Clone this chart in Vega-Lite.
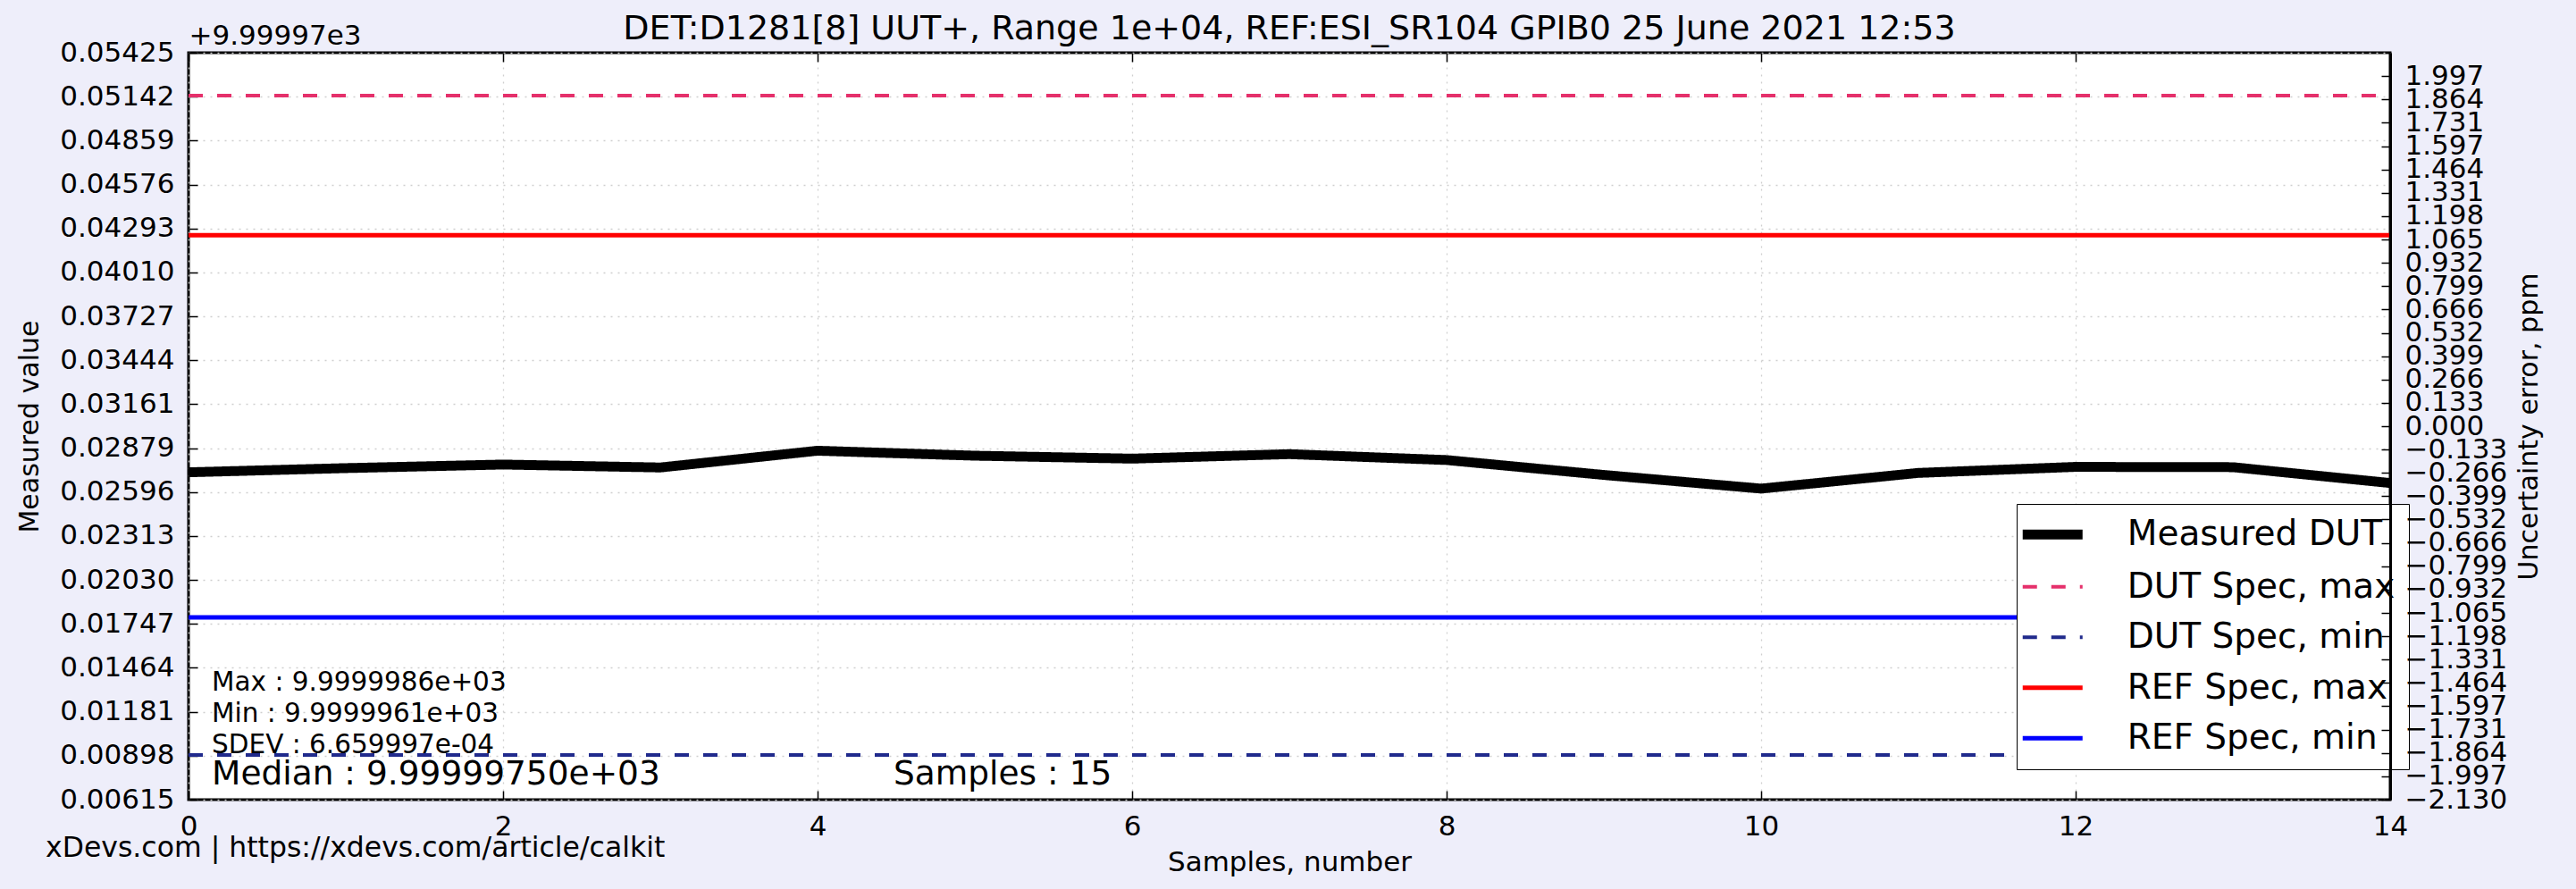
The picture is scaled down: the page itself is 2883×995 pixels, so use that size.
{
  "$schema": "https://vega.github.io/schema/vega-lite/v6.json",
  "width": 2464,
  "height": 836,
  "autosize": {"type": "none"},
  "padding": {"left": 211, "top": 59, "right": 208, "bottom": 100},
  "background": "#EEEEFA",
  "title": {"text": "DET:D1281[8] UUT+, Range 1e+04, REF:ESI_SR104 GPIB0 25 June 2021 12:53", "fontSize": 38, "fontWeight": "normal", "font": "DejaVu Sans", "color": "black", "anchor": "middle", "offset": -28},
  "config": {
    "font": "DejaVu Sans",
    "view": {"fill": "white", "stroke": "black", "strokeWidth": 3},
    "axis": {"labelFont": "DejaVu Sans", "titleFont": "DejaVu Sans", "labelColor": "black", "titleColor": "black", "labelFontSize": 31, "titleFontSize": 31, "titleFontWeight": "normal", "domain": false, "tickColor": "black", "tickSize": -10, "tickWidth": 1.5, "gridColor": "#cfcfcf", "gridDash": [2, 6], "gridWidth": 1.3, "labelOverlap": false, "labelBound": false, "labelFlush": false}
  },
  "datasets": {
    "lines": [
      {"series": "Measured DUT", "sample": 0, "value": 0.02723},
      {"series": "Measured DUT", "sample": 1, "value": 0.02750},
      {"series": "Measured DUT", "sample": 2, "value": 0.02773},
      {"series": "Measured DUT", "sample": 3, "value": 0.02754},
      {"series": "Measured DUT", "sample": 4, "value": 0.02862},
      {"series": "Measured DUT", "sample": 5, "value": 0.02830},
      {"series": "Measured DUT", "sample": 6, "value": 0.02811},
      {"series": "Measured DUT", "sample": 7, "value": 0.02840},
      {"series": "Measured DUT", "sample": 8, "value": 0.02802},
      {"series": "Measured DUT", "sample": 9, "value": 0.02706},
      {"series": "Measured DUT", "sample": 10, "value": 0.02618},
      {"series": "Measured DUT", "sample": 11, "value": 0.02719},
      {"series": "Measured DUT", "sample": 12, "value": 0.02758},
      {"series": "Measured DUT", "sample": 13, "value": 0.02756},
      {"series": "Measured DUT", "sample": 14, "value": 0.02654},
      {"series": "DUT Spec, max", "sample": 0, "value": 0.051488},
      {"series": "DUT Spec, max", "sample": 14, "value": 0.051488},
      {"series": "DUT Spec, min", "sample": 0, "value": 0.009027},
      {"series": "DUT Spec, min", "sample": 14, "value": 0.009027},
      {"series": "REF Spec, max", "sample": 0, "value": 0.042496},
      {"series": "REF Spec, max", "sample": 14, "value": 0.042496},
      {"series": "REF Spec, min", "sample": 0, "value": 0.017887},
      {"series": "REF Spec, min", "sample": 14, "value": 0.017887}
    ],
    "ppm": [{"ppm": -2.13}, {"ppm": 2.13}]
  },
  "layer": [
    {
      "data": {"name": "lines"},
      "mark": {"type": "line", "strokeCap": "butt", "strokeJoin": "miter"},
      "encoding": {
        "x": {"field": "sample", "type": "quantitative", "scale": {"domain": [0, 14], "nice": false, "zero": false},
          "axis": {"orient": "bottom", "values": [0, 2, 4, 6, 8, 10, 12, 14], "format": "d", "grid": true, "labelPadding": 25, "labelFontSize": 31, "title": "Samples, number", "titleFontSize": 31, "titlePadding": 10}},
        "y": {"field": "value", "type": "quantitative", "scale": {"domain": [0.00615, 0.05425], "nice": false, "zero": false},
          "axis": {"orient": "left", "values": [0.00615, 0.008979412, 0.011808824, 0.014638235, 0.017467647, 0.020297059, 0.023126471, 0.025955882, 0.028785294, 0.031614706, 0.034444118, 0.037273529, 0.040102941, 0.042932353, 0.045761765, 0.048591176, 0.051420588, 0.05425], "format": ".5f", "grid": true, "labelPadding": 26, "labelFontSize": 31, "title": "Measured value", "titleFontSize": 30, "titlePadding": 18}},
        "color": {"field": "series", "type": "nominal",
          "scale": {"domain": ["Measured DUT", "DUT Spec, max", "DUT Spec, min", "REF Spec, max", "REF Spec, min"], "range": ["#000000", "#E5306B", "#202A8C", "#FF0000", "#0000FF"]},
          "legend": {"orient": "none", "legendX": 2046, "legendY": 505, "title": null, "symbolType": "stroke", "symbolSize": 4489, "symbolOffset": 6, "labelFontSize": 39, "labelFont": "DejaVu Sans", "labelColor": "black", "labelOffset": 64, "rowPadding": 16.5, "padding": 14.75, "strokeColor": "black", "fillColor": "white", "labelLimit": 0,
            "encode": {"symbols": {"update": {"strokeWidth": {"signal": "datum.value === 'Measured DUT' ? 11 : ((datum.value === 'REF Spec, max' || datum.value === 'REF Spec, min') ? 5 : 4)"}}}}}},
        "strokeDash": {"field": "series", "type": "nominal",
          "scale": {"domain": ["Measured DUT", "DUT Spec, max", "DUT Spec, min", "REF Spec, max", "REF Spec, min"], "range": [[1, 0], [16, 16], [16, 16], [1, 0], [1, 0]]},
          "legend": {"orient": "none", "legendX": 2046, "legendY": 505, "title": null, "symbolType": "stroke", "symbolSize": 4489, "symbolOffset": 6, "labelFontSize": 39, "labelFont": "DejaVu Sans", "labelColor": "black", "labelOffset": 64, "rowPadding": 16.5, "padding": 14.75, "strokeColor": "black", "fillColor": "white", "labelLimit": 0,
            "encode": {"symbols": {"update": {"strokeWidth": {"signal": "datum.value === 'Measured DUT' ? 11 : ((datum.value === 'REF Spec, max' || datum.value === 'REF Spec, min') ? 5 : 4)"}}}}}},
        "strokeWidth": {"condition": [{"test": "datum.series === 'Measured DUT'", "value": 11}, {"test": "datum.series === 'REF Spec, max' || datum.series === 'REF Spec, min'", "value": 5}], "value": 4}
      }
    },
    {
      "data": {"values": [{"label": "Max : 9.9999986e+03"}]},
      "mark": {"type": "text", "align": "left", "baseline": "middle", "fontSize": 29.5, "font": "DejaVu Sans", "color": "black"},
      "encoding": {"text": {"field": "label"}, "x": {"datum": 0.148, "type": "quantitative", "axis": null}, "y": {"datum": 0.013687, "type": "quantitative", "scale": {"domain": [0.00615, 0.05425], "nice": false, "zero": false}, "axis": null}}
    },
    {
      "data": {"values": [{"label": "Min : 9.9999961e+03"}]},
      "mark": {"type": "text", "align": "left", "baseline": "middle", "fontSize": 29.5, "font": "DejaVu Sans", "color": "black"},
      "encoding": {"text": {"field": "label"}, "x": {"datum": 0.148, "type": "quantitative", "axis": null}, "y": {"datum": 0.011673, "type": "quantitative", "scale": {"domain": [0.00615, 0.05425], "nice": false, "zero": false}, "axis": null}}
    },
    {
      "data": {"values": [{"label": "SDEV : 6.659997e-04"}]},
      "mark": {"type": "text", "align": "left", "baseline": "middle", "fontSize": 29.5, "font": "DejaVu Sans", "color": "black"},
      "encoding": {"text": {"field": "label"}, "x": {"datum": 0.148, "type": "quantitative", "axis": null}, "y": {"datum": 0.00966, "type": "quantitative", "scale": {"domain": [0.00615, 0.05425], "nice": false, "zero": false}, "axis": null}}
    },
    {
      "data": {"values": [{"label": "Median : 9.99999750e+03"}]},
      "mark": {"type": "text", "align": "left", "baseline": "middle", "fontSize": 37.5, "font": "DejaVu Sans", "color": "black"},
      "encoding": {"text": {"field": "label"}, "x": {"datum": 0.148, "type": "quantitative", "axis": null}, "y": {"datum": 0.007761, "type": "quantitative", "scale": {"domain": [0.00615, 0.05425], "nice": false, "zero": false}, "axis": null}}
    },
    {
      "data": {"values": [{"label": "Samples : 15"}]},
      "mark": {"type": "text", "align": "left", "baseline": "middle", "fontSize": 37.5, "font": "DejaVu Sans", "color": "black"},
      "encoding": {"text": {"field": "label"}, "x": {"datum": 4.483, "type": "quantitative", "axis": null}, "y": {"datum": 0.007761, "type": "quantitative", "scale": {"domain": [0.00615, 0.05425], "nice": false, "zero": false}, "axis": null}}
    },
    {
      "data": {"values": [{"label": "xDevs.com | https://xdevs.com/article/calkit"}]},
      "mark": {"type": "text", "align": "left", "baseline": "middle", "fontSize": 31.5, "font": "DejaVu Sans", "color": "black"},
      "encoding": {"text": {"field": "label"}, "x": {"datum": -0.909, "type": "quantitative", "axis": null}, "y": {"datum": 0.002986, "type": "quantitative", "scale": {"domain": [0.00615, 0.05425], "nice": false, "zero": false}, "axis": null}}
    },
    {
      "data": {"name": "ppm"},
      "mark": {"type": "point", "opacity": 0},
      "encoding": {
        "x": {"datum": 0, "type": "quantitative", "scale": {"domain": [0, 14], "nice": false, "zero": false},
          "axis": {"orient": "top", "values": [0, 2, 4, 6, 8, 10, 12, 14], "labels": false, "grid": false, "title": "+9.99997e3", "titleFontSize": 31, "titleAnchor": "start", "titleAlign": "left", "titleBaseline": "bottom", "titlePadding": 2}},
        "y": {"field": "ppm", "type": "quantitative", "scale": {"domain": [-2.13, 2.13], "nice": false, "zero": false},
          "axis": {"orient": "right", "values": [-2.130, -1.997, -1.864, -1.731, -1.597, -1.464, -1.331, -1.198, -1.065, -0.932, -0.799, -0.666, -0.532, -0.399, -0.266, -0.133, 0, 0.133, 0.266, 0.399, 0.532, 0.666, 0.799, 0.932, 1.065, 1.198, 1.331, 1.464, 1.597, 1.731, 1.864, 1.997], "format": ".3f", "grid": false, "labelPadding": 26, "labelFontSize": 31, "labelAlign": "left", "title": "Uncertainty error, ppm", "titleFontSize": 30, "titleAngle": -90, "titleBaseline": "top", "titlePadding": 10, "domain": true, "domainColor": "black", "domainWidth": 3, "zindex": 1}}
      }
    }
  ],
  "resolve": {"scale": {"y": "independent"}, "axis": {"x": "independent", "y": "independent"}}
}
